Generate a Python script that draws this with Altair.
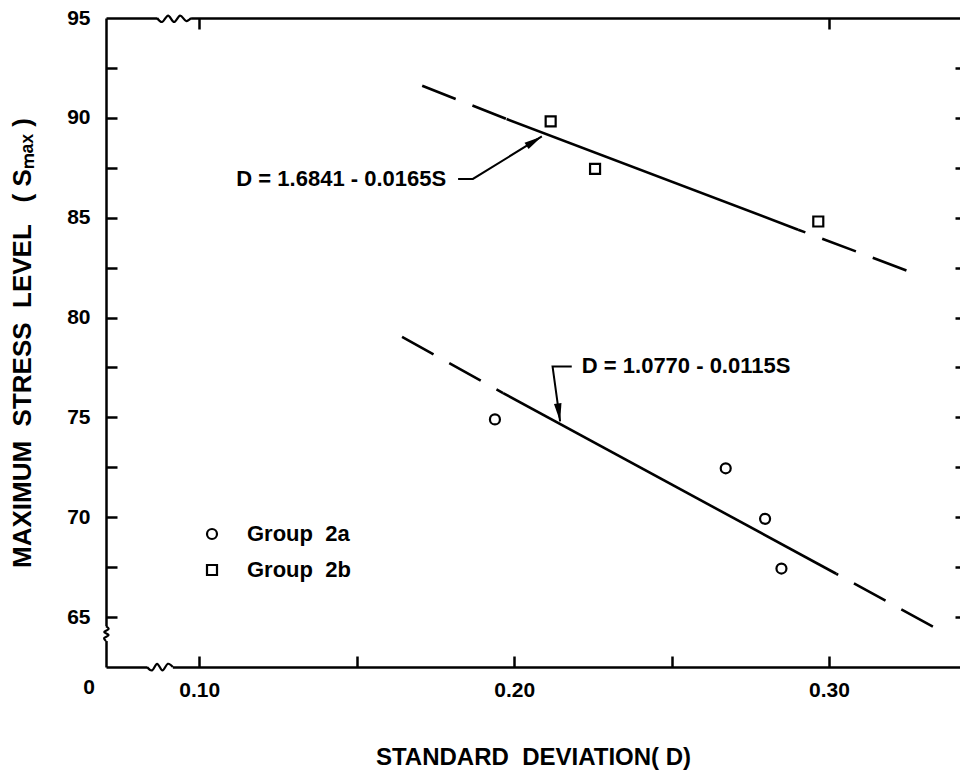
import altair as alt
import pandas as pd

# ---------------- data ----------------
# Group 2a (circles): standard deviation D, max stress level S
g2a_D = [0.1939, 0.2672, 0.2797, 0.2849]
g2a_S = [74.9, 72.45, 69.92, 67.43]
# Group 2b (squares)
g2b_D = [0.2116, 0.2257, 0.2966]
g2b_S = [89.82, 87.44, 84.81]

# fitted lines: [outer start, solid start, solid end, outer end]
upper_D = [0.1708, 0.1976, 0.2902, 0.3246]
upper_S = [91.61, 89.94, 84.40, 82.36]
lower_D = [0.1644, 0.1965, 0.3023, 0.3330]
lower_S = [79.03, 76.22, 67.17, 64.52]

# equation labels
eq_text = ["D = 1.6841 - 0.0165S", "D = 1.0770 - 0.0115S"]
eq_D = [0.1784, 0.2215]
eq_S = [86.94, 77.55]

# leader lines (text -> bend -> arrow tip)
upper_leader_D = [0.1822, 0.1869, 0.2088]
upper_leader_S = [86.94, 86.94, 89.07]
lower_leader_D = [0.2183, 0.2122, 0.2146]
lower_leader_S = [77.55, 77.55, 74.80]
arrow_angle = [58.2, 172.4]

# axis-break squiggles
top_break_D = [0.0866, 0.0882, 0.0901, 0.0920, 0.0939, 0.0958, 0.0974]
top_break_S = [95.0, 94.8, 95.12, 94.8, 95.12, 94.85, 95.0]
bot_break_D = [0.0834, 0.0850, 0.0866, 0.0883, 0.0900, 0.0916]
bot_break_S = [62.5, 62.33, 62.66, 62.33, 62.66, 62.5]
left_break_D = [0.07037, 0.0712, 0.0698, 0.0712, 0.0698, 0.07037]
left_break_S = [64.55, 64.4, 64.25, 64.1, 63.95, 63.8]

groups = ["Group\u00a0 2a", "Group\u00a0 2b"]
y_label_values = [65, 70, 75, 80, 85, 90, 95]
y_tick_values = [65, 67.5, 70, 72.5, 75, 77.5, 80, 82.5, 85, 87.5, 90, 92.5]
x_label_values = [0.10, 0.20, 0.30]
x_tick_values = [0.10, 0.15, 0.20, 0.25, 0.30]
top_tick_values = [0.10, 0.30]

X_DOMAIN = [0.07037, 0.34161]
Y_DOMAIN = [62.5, 95]

FONT = "Liberation Sans"
W, H = 854, 649

# ---------------- tables ----------------
pts = pd.DataFrame({
    "D": g2a_D + g2b_D,
    "S": g2a_S + g2b_S,
    "group": [groups[0]] * len(g2a_D) + [groups[1]] * len(g2b_D),
})

dash_rows, solid_rows = [], []
for name, Dv, Sv in [("upper", upper_D, upper_S), ("lower", lower_D, lower_S)]:
    dash_rows += [
        dict(seg=name + "_L", D=Dv[0], S=Sv[0], o=0),
        dict(seg=name + "_L", D=Dv[1], S=Sv[1], o=1),
        dict(seg=name + "_R", D=Dv[3], S=Sv[3], o=0),
        dict(seg=name + "_R", D=Dv[2], S=Sv[2], o=1),
    ]
    solid_rows += [
        dict(seg=name, D=Dv[1], S=Sv[1], o=0),
        dict(seg=name, D=Dv[2], S=Sv[2], o=1),
    ]
dash_df = pd.DataFrame(dash_rows)
solid_df = pd.DataFrame(solid_rows)

leader_rows = []
for name, Dv, Sv in [("u", upper_leader_D, upper_leader_S), ("l", lower_leader_D, lower_leader_S)]:
    for i, (d, s) in enumerate(zip(Dv, Sv)):
        leader_rows.append(dict(seg=name, D=d, S=s, o=i))
leader_df = pd.DataFrame(leader_rows)

tips_df = pd.DataFrame({
    "D": [upper_leader_D[-1], lower_leader_D[-1]],
    "S": [upper_leader_S[-1], lower_leader_S[-1]],
    "ang": arrow_angle,
})

eq_up = pd.DataFrame({"D": [eq_D[0]], "S": [eq_S[0]], "t": [eq_text[0]]})
eq_lo = pd.DataFrame({"D": [eq_D[1]], "S": [eq_S[1]], "t": [eq_text[1]]})

brk_rows = []
for name, Dv, Sv in [("top", top_break_D, top_break_S), ("bot", bot_break_D, bot_break_S),
                     ("left", left_break_D, left_break_S)]:
    for i, (d, s) in enumerate(zip(Dv, Sv)):
        brk_rows.append(dict(seg=name, D=d, S=s, o=i))
brk_df = pd.DataFrame(brk_rows)
erase_df = brk_df[brk_df.groupby("seg")["o"].transform(lambda v: (v == v.min()) | (v == v.max()))]
erase_df = erase_df.copy()
erase_df.loc[erase_df.seg == "top", "S"] = Y_DOMAIN[1]
erase_df.loc[erase_df.seg == "bot", "S"] = Y_DOMAIN[0]
erase_df.loc[erase_df.seg == "left", "D"] = X_DOMAIN[0]

zero_df = pd.DataFrame({"D": [X_DOMAIN[0]], "S": [Y_DOMAIN[0]], "t": ["0"]})


# ---------------- helpers ----------------
def X(axis=None):
    return alt.X("D:Q", scale=alt.Scale(domain=X_DOMAIN, nice=False, zero=False), axis=axis)


def Y(axis=None):
    return alt.Y("S:Q", scale=alt.Scale(domain=Y_DOMAIN, nice=False, zero=False), axis=axis)


common_axis = dict(grid=False, domainColor="black", tickColor="black", labelColor="black",
                   titleColor="black")

left_main = alt.Axis(orient="left", values=y_label_values, ticks=False, domain=True, domainWidth=2.5,
                     labelFont=FONT, labelFontSize=21, labelFontWeight="bold", labelPadding=16,
                     title="MAXIMUM\u00a0 STRESS\u00a0 LEVEL\u00a0\u00a0 (\u00a0S\u2098\u2090\u2093\u00a0)",
                     titleFont=FONT, titleFontSize=26, titleFontWeight="bold",
                     titleX=-84, titleY=H / 2, titleAngle=270, titleAlign="center",
                     titleBaseline="middle", **common_axis)
left_ticks = alt.Axis(orient="left", offset=-11, tickSize=11, tickWidth=2.5, values=y_tick_values,
                      labels=False, domain=False, title=None, **common_axis)
right_ticks = alt.Axis(orient="right", offset=-5, tickSize=5, tickWidth=2.5, values=y_tick_values,
                       labels=False, domain=False, title=None, **common_axis)
bottom_main = alt.Axis(orient="bottom", values=x_label_values, format=".2f", ticks=False,
                       domain=True, domainWidth=2.5, labelFont=FONT, labelFontSize=21,
                       labelFontWeight="bold", labelPadding=12, labelFlush=False,
                       title="STANDARD\u00a0 DEVIATION( D)", titleFont=FONT, titleFontSize=24,
                       titleFontWeight="bold", titleY=90, titleBaseline="middle", **common_axis)
bottom_ticks = alt.Axis(orient="bottom", offset=-11, tickSize=11, tickWidth=2.5, values=x_tick_values,
                        labels=False, domain=False, title=None, **common_axis)
top_domain = alt.Axis(orient="top", domain=True, domainWidth=2.5, ticks=False, labels=False,
                      title=None, **common_axis)
top_ticks = alt.Axis(orient="top", offset=-11, tickSize=11, tickWidth=2.5, values=top_tick_values,
                     labels=False, domain=False, title=None, **common_axis)

LW = 2.6

dashed = alt.Chart(dash_df).mark_line(color="black", strokeWidth=LW, strokeDash=[36, 18],
                                      strokeCap="butt").encode(
    x=X(bottom_main), y=Y(left_main), detail="seg:N", order="o:Q")

solid = alt.Chart(solid_df).mark_line(color="black", strokeWidth=LW, strokeCap="butt").encode(
    x=X(bottom_ticks), y=Y(left_ticks), detail="seg:N", order="o:Q")

points = alt.Chart(pts).mark_point(filled=False, size=100, strokeWidth=2.2, color="black",
                                   opacity=1).encode(
    x=X(top_domain), y=Y(right_ticks),
    shape=alt.Shape("group:N", scale=alt.Scale(domain=groups, range=["circle", "square"]),
                    legend=alt.Legend(title=None, orient="none", legendX=95, legendY=505,
                                      padding=0, rowPadding=14, labelFont=FONT, labelFontSize=22,
                                      labelFontWeight="bold", labelColor="black", labelOffset=24,
                                      symbolSize=100, symbolStrokeWidth=2.2, symbolStrokeColor="black",
                                      symbolFillColor="white")))

text_up = alt.Chart(eq_up).mark_text(align="right", baseline="middle", font=FONT, fontSize=22,
                                     fontWeight="bold", color="black").encode(
    x=X(top_ticks), y=Y(), text="t:N")
text_lo = alt.Chart(eq_lo).mark_text(align="left", baseline="middle", font=FONT, fontSize=22,
                                     fontWeight="bold", color="black").encode(
    x=X(), y=Y(), text="t:N")

leaders = alt.Chart(leader_df).mark_line(color="black", strokeWidth=2).encode(
    x=X(), y=Y(), detail="seg:N", order="o:Q")

arrowheads = alt.Chart(tips_df).mark_point(shape="M0,0L0.42,2L-0.42,2Z", filled=True, size=324,
                                           color="black", opacity=1, strokeWidth=0).encode(
    x=X(), y=Y(), angle=alt.Angle("ang:Q", scale=None))

eraser = alt.Chart(erase_df).mark_line(color="white", strokeWidth=6).encode(
    x=X(), y=Y(), detail="seg:N", order="o:Q")
squiggles = alt.Chart(brk_df).mark_line(color="black", strokeWidth=2.2, interpolate="cardinal").encode(
    x=X(), y=Y(), detail="seg:N", order="o:Q")

zero_lbl = alt.Chart(zero_df).mark_text(align="center", baseline="middle", dx=-17, dy=21, font=FONT,
                                        fontSize=21, fontWeight="bold", color="black").encode(
    x=X(), y=Y(), text="t:N")

chart = alt.layer(
    dashed, solid, points, text_up, text_lo, leaders, arrowheads, eraser, squiggles, zero_lbl
).resolve_scale(
    x="independent", y="independent"
).properties(
    width=W, height=H,
    autosize=alt.AutoSizeParams(type="none"),
    padding={"left": 106, "top": 18, "right": 0, "bottom": 105},
    background="white",
).configure_view(stroke=None)

chart.save("out.html", embed_options={"renderer": "svg", "actions": False})
